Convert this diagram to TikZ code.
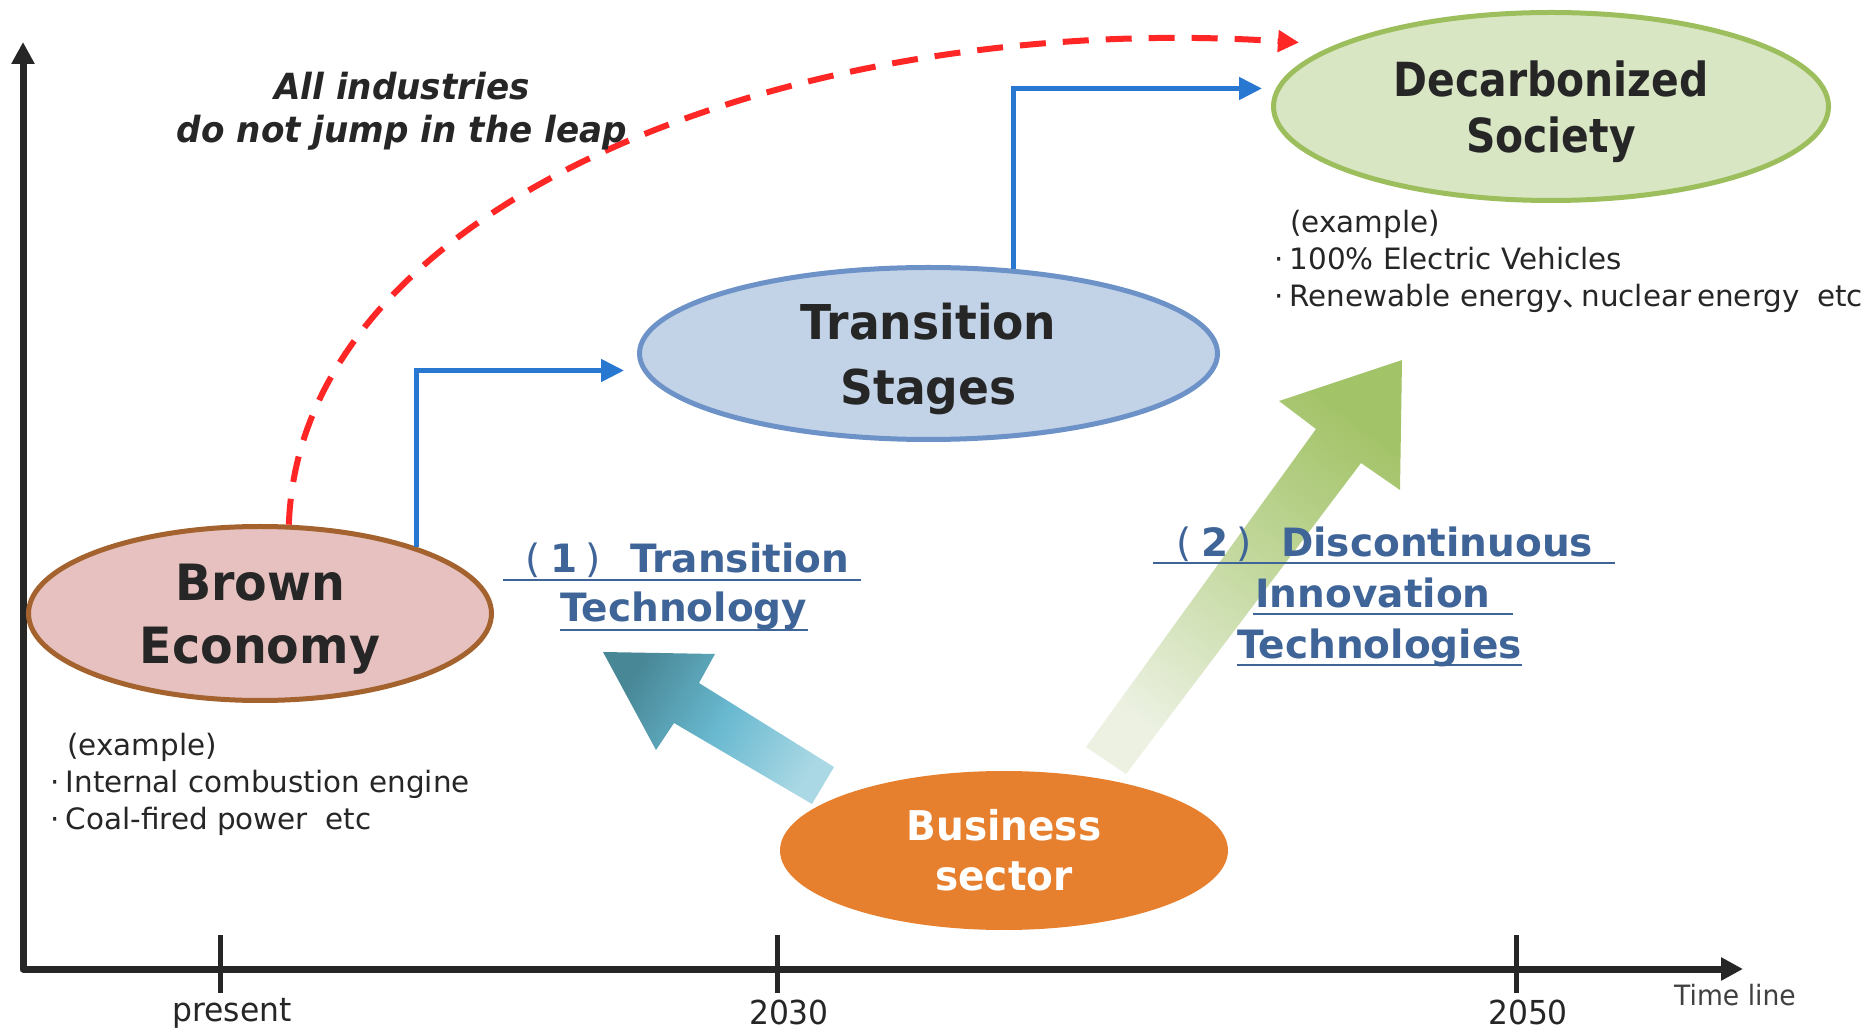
\documentclass[tikz,border=0pt]{standalone}
\usepackage{fontspec}
\setmainfont{DejaVu Sans}
\newfontfamily\nar[FakeStretch=0.95]{DejaVu Sans}
\newfontfamily\narr[FakeStretch=0.87]{DejaVu Sans}
\newfontfamily\cjk{Noto Sans CJK JP}
\usetikzlibrary{arrows.meta,shapes.geometric,calc}

\definecolor{textdark}{RGB}{38,38,38}
\definecolor{textgray}{RGB}{64,64,64}
\definecolor{brownfill}{RGB}{230,193,192}
\definecolor{brownline}{RGB}{163,98,46}
\definecolor{transfill}{RGB}{194,210,231}
\definecolor{transline}{RGB}{108,146,200}
\definecolor{decarbfill}{RGB}{217,230,196}
\definecolor{decarbline}{RGB}{157,190,92}
\definecolor{bizfill}{RGB}{231,128,46}
\definecolor{connblue}{RGB}{40,120,210}
\definecolor{leapred}{RGB}{255,38,38}
\definecolor{labelblue}{RGB}{62,100,152}
\definecolor{tealdark}{RGB}{72,135,150}
\definecolor{tealmid}{RGB}{105,185,208}
\definecolor{teallight}{RGB}{170,216,228}
\definecolor{greendark}{RGB}{163,195,104}
\definecolor{greenmid}{RGB}{196,217,160}
\definecolor{greenlight}{RGB}{236,241,226}

% last line of a node without descender depth, so the text sits centred
\newcommand{\flatline}[1]{\raisebox{0pt}[\height][0pt]{#1}}
% numbered heading prefix such as (1)
\newcommand{\tagno}[1]{{\mdseries(}\kern0.26em#1\kern0.2em{\mdseries)}\kern0.75em}

\begin{document}
\begin{tikzpicture}[x=0.5pt,y=-0.5pt,
  axisline/.style={draw=textdark,line width=3.5pt,line join=round,
    {Triangle[length=11pt,width=11pt]}-{Triangle[length=11pt,width=11pt]}},
  tickmark/.style={draw=textdark,line width=2.5pt},
  yearlabel/.style={anchor=base,inner sep=0pt,text=textdark,
    font=\nar\fontsize{16.5}{20}\selectfont},
  stage/.style={ellipse,inner sep=0pt,align=center,line width=2.5pt,text=textdark},
  bconn/.style={draw=connblue,line width=2.4pt,
    -{Triangle[length=11.5pt,width=11pt]}},
  leap/.style={draw=leapred,line width=3pt,dash pattern=on 13pt off 8.5pt,
    -{Triangle[length=10.5pt,width=10.5pt]}},
  slogan/.style={anchor=base,inner sep=0pt,text=textdark,
    font=\nar\fontsize{18}{22}\selectfont\bfseries\itshape},
  techlabel/.style={anchor=base west,inner sep=0pt,text=labelblue,
    font=\fontsize{19.5}{23}\selectfont\bfseries},
  uline/.style={draw=labelblue,line width=1.2pt},
  example/.style={anchor=base west,inner sep=0pt,text=textdark,
    font=\fontsize{14.7}{18}\selectfont},
]
\useasboundingbox (0,0) rectangle (1875,1031);
\fill[white] (0,0) rectangle (1875,1031);

% time axis
\coordinate (ytop) at (23,42);
\coordinate (xend) at (1743,969);
\draw[axisline] (ytop) |- (xend);
\foreach \tx in {220,777,1516}
  \draw[tickmark] (\tx,935) -- (\tx,993);
\node[yearlabel] (tpresent) at (232,1021) {present};
\node[yearlabel] (t2030) at (789,1024) {2030};
\node[yearlabel] (t2050) at (1528,1024) {2050};
\node[yearlabel,text=textgray,font=\nar\fontsize{14}{17}\selectfont] (tline) at (1735,1005) {Time line};

% block arrows rising from the business sector
\shade[top color=tealdark,bottom color=teallight,middle color=tealmid,shading angle=59]
  (603,652) -- (715,654) -- (699,683) -- (834,767) -- (812,804) -- (674,723) -- (656,750) -- cycle;
\shade[top color=greendark,bottom color=greenlight,middle color=greenmid,shading angle=-36.5]
  (1402,360) -- (1400,490) -- (1361,463) -- (1126,774) -- (1086,747) -- (1316,429) -- (1279,401) -- cycle;

% stages
\node[stage,fill=brownfill,draw=brownline,minimum width=231.5pt,minimum height=87pt,
  font=\nar\fontsize{25}{31.5}\selectfont\bfseries] (brown) at (260,613.5) {Brown\\\flatline{Economy}};
\node[stage,fill=transfill,draw=transline,minimum width=289pt,minimum height=86pt,
  font=\nar\fontsize{24}{32.5}\selectfont\bfseries] (trans) at (928.5,353.5) {Transition\\\flatline{Stages}};
\node[stage,fill=decarbfill,draw=decarbline,minimum width=277.5pt,minimum height=94pt,
  font=\narr\fontsize{23.5}{28}\selectfont\bfseries] (decarb) at (1551,106.5) {Decarbonized\\\flatline{Society}};
\node[stage,fill=bizfill,draw=none,text=white,minimum width=224pt,minimum height=79.5pt,
  font=\nar\fontsize{20.5}{25}\selectfont\bfseries] (biz) at (1004,850.5) {Business\\sector};

% step-by-step path
\draw[bconn] (brown.23) |- ($(trans.west)+(-13,17)$);
\draw[bconn] (trans.45) |- ($(decarb.west)+(-9,-18)$);

% the leap that does not happen
\draw[leap] (brown.72) .. controls (300,200) and (800,10) .. ($(decarb.west)+(28,-64)$);
\node[slogan] (jump1) at (402,100) {All industries};
\node[slogan] (jump2) at (402,143) {do not jump in the leap};

% technology labels
\node[techlabel] (tt1) at (525,573) {\tagno{1}Transition};
\node[techlabel] (tt2) at (560,622) {Technology};
\draw[uline] ($(tt1.base west)+(-22,7)$) -- ($(tt1.base east)+(12,7)$);
\draw[uline] ($(tt2.base west)+(0,8)$) -- ($(tt2.base east)+(0,8)$);

\node[techlabel] (td1) at (1176,557) {\tagno{2}Discontinuous};
\node[techlabel] (td2) at (1255,608) {Innovation};
\node[techlabel] (td3) at (1237,659) {Technologies};
\draw[uline] ($(td1.base west)+(-23,6)$) -- ($(td1.base east)+(21,6)$);
\draw[uline] ($(td2.base west)+(-2,6)$) -- ($(td2.base east)+(22,6)$);
\draw[uline] ($(td3.base west)+(0,6)$) -- ($(td3.base east)+(0,6)$);

% examples
\node[example] (exL0) at (67,755) {(example)};
\node[example] (exL1) at (50,792) {·\kern3pt Internal combustion engine};
\node[example] (exL2) at (50,829) {·\kern3pt Coal-fired power\hspace{0.6em}etc};

\node[example] (exR0) at (1290,233) {(example)};
\node[example] (exR1) at (1274,270) {·\kern3pt 100\% Electric Vehicles};
\node[example] (exR2) at (1274,307) {·\kern3pt Renewable energy{\cjk 、}\kern-0.35em nuclear\kern0.2em energy\hspace{0.6em}etc};
\end{tikzpicture}
\end{document}
